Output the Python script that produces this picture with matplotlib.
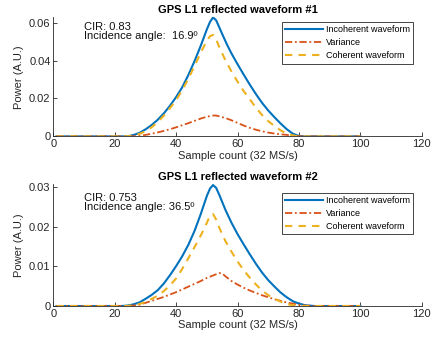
import matplotlib
matplotlib.use("Agg")
import matplotlib.pyplot as plt

plt.rcParams['font.family'] = ['Liberation Sans', 'DejaVu Sans']

# ---------------- Data: waveform #1 ----------------
inc1_x = [1, 10, 20, 24, 26, 28, 30, 32, 34, 36, 38, 40, 42, 44, 46, 48, 50, 51, 52, 53, 54, 55, 56, 57,
          58, 60, 62, 64, 66, 68, 70, 72, 74, 76, 78, 80, 82, 90, 100]
inc1_y = [0, 0, 0, 0, 0.0007, 0.0018, 0.0037, 0.006, 0.0088, 0.0122, 0.0162, 0.0208, 0.026, 0.0325,
          0.0398, 0.0478, 0.0565, 0.0603, 0.0627, 0.0612, 0.0576, 0.0539, 0.0503, 0.0469, 0.0437,
          0.038, 0.0325, 0.0272, 0.0222, 0.0176, 0.0136, 0.0101, 0.0068, 0.0038, 0.0014, 0.0002,
          0, 0, 0]

var1_x = [1, 10, 20, 25, 28, 30, 32, 34, 36, 38, 40, 42, 44, 46, 48, 50, 52, 53, 54, 56, 58, 60, 62,
          64, 66, 68, 70, 72, 74, 76, 78, 80, 82, 90, 100]
var1_y = [0, 0, 0, 0, 0.0002, 0.0008, 0.0014, 0.0021, 0.0029, 0.0038, 0.0048, 0.0059, 0.007, 0.0082,
          0.0094, 0.0104, 0.011, 0.011, 0.0106, 0.0097, 0.0085, 0.0071, 0.0057, 0.0045, 0.0035, 0.0027,
          0.0020, 0.0015, 0.0011, 0.0008, 0.0004, 0.0001, 0, 0, 0]

coh1_x = [1, 10, 20, 24, 26, 28, 30, 32, 34, 36, 38, 40, 42, 44, 46, 48, 50, 51, 52, 53, 54, 56, 58,
          60, 62, 64, 66, 68, 70, 72, 74, 76, 78, 80, 90, 100]
coh1_y = [0, 0, 0, 0, 0.0005, 0.0013, 0.0027, 0.0048, 0.0076, 0.011, 0.015, 0.0192, 0.0245, 0.0305,
          0.0372, 0.0442, 0.0505, 0.0528, 0.0535, 0.0512, 0.0472, 0.0402, 0.0342, 0.0288, 0.0238,
          0.0195, 0.0150, 0.0112, 0.0080, 0.0055, 0.0032, 0.0015, 0.0005, 0, 0, 0]

# ---------------- Data: waveform #2 ----------------
inc2_x = [1, 10, 22, 24, 26, 28, 30, 32, 34, 36, 38, 40, 42, 44, 46, 48, 50, 51, 52, 53, 54, 56, 58,
          60, 62, 64, 66, 68, 70, 72, 74, 76, 78, 80, 82, 85, 90, 100]
inc2_y = [0, 0, 0, 0.0001, 0.0004, 0.0009, 0.0018, 0.0028, 0.0040, 0.0057, 0.0078, 0.0101, 0.0126,
          0.0155, 0.019, 0.0232, 0.0278, 0.0296, 0.0305, 0.0298, 0.0281, 0.0243, 0.0210, 0.0181,
          0.0155, 0.0130, 0.0106, 0.0084, 0.0065, 0.0049, 0.0034, 0.0022, 0.0012, 0.0006, 0.0002,
          0, 0, 0]

var2_x = [1, 10, 24, 26, 28, 30, 32, 34, 36, 38, 40, 42, 44, 46, 48, 50, 52, 54, 55, 56, 58, 60, 62,
          64, 66, 68, 70, 72, 74, 76, 78, 80, 82, 85, 90, 100]
var2_y = [0, 0, 0, 0.0001, 0.0003, 0.0008, 0.0013, 0.0018, 0.0023, 0.0029, 0.0035, 0.0042, 0.0049,
          0.0056, 0.0063, 0.0071, 0.0077, 0.0083, 0.0082, 0.0075, 0.0063, 0.0054, 0.0046, 0.0039,
          0.0033, 0.0027, 0.0022, 0.0017, 0.0013, 0.0009, 0.0006, 0.0003, 0.0001, 0, 0, 0]

coh2_x = [1, 10, 24, 26, 28, 30, 32, 34, 36, 38, 40, 42, 44, 46, 48, 50, 51, 52, 53, 54, 56, 58, 60,
          62, 64, 66, 68, 70, 72, 74, 76, 78, 80, 90, 100]
coh2_y = [0, 0, 0, 0.0002, 0.0005, 0.001, 0.0018, 0.0026, 0.0038, 0.0052, 0.007, 0.0094, 0.0121,
          0.0149, 0.0178, 0.021, 0.0228, 0.0232, 0.0218, 0.0198, 0.0164, 0.0137, 0.0112, 0.0090,
          0.0071, 0.0054, 0.0039, 0.0027, 0.0018, 0.0011, 0.0005, 0.0002, 0, 0, 0]

titles = ["GPS L1 reflected waveform #1", "GPS L1 reflected waveform #2"]
notes = ["CIR: 0.83\nIncidence angle:  16.9º", "CIR: 0.753\nIncidence angle: 36.5º"]
labels = ["Incoherent waveform", "Variance", "Coherent waveform"]
xticks = [0, 20, 40, 60, 80, 100, 120]
yticks1 = [0, 0.02, 0.04, 0.06]
yticks2 = [0, 0.01, 0.02, 0.03]
ylims = [0.0629, 0.0307]

C_BLUE = '#0072BD'
C_ORANGE = '#D95319'
C_YELLOW = '#EDB120'
C_AX = '#262626'

fig = plt.figure(figsize=(4.34, 3.41), dpi=100)
ax1 = fig.add_axes([0.123, 0.600, 0.849, 0.350])
ax2 = fig.add_axes([0.123, 0.1026, 0.849, 0.357])

panels = [
    (ax1, inc1_x, inc1_y, var1_x, var1_y, coh1_x, coh1_y, yticks1, 0),
    (ax2, inc2_x, inc2_y, var2_x, var2_y, coh2_x, coh2_y, yticks2, 1),
]
leg_anchor = [(0.9756, 0.958), (0.9756, 0.9285)]

for ax, ix, iy, vx, vy, cx, cy, yt, k in panels:
    ax.plot(ix, iy, color=C_BLUE, lw=1.5, label=labels[0])
    ax.plot(vx, vy, color=C_ORANGE, lw=1.3, ls=(0, (4, 1.5, 1, 1.5)), label=labels[1])
    ax.plot(cx, cy, color=C_YELLOW, lw=1.5, ls=(0, (3.5, 3)), label=labels[2])
    ax.set_xlim(0, 120)
    ax.set_ylim(0, ylims[k])
    ax.set_xticks(xticks)
    ax.set_yticks(yt)
    ax.set_yticklabels(['0'] + [f"{v:g}" for v in yt[1:]])
    for s in ['top', 'right']:
        ax.spines[s].set_visible(False)
    for s in ['left', 'bottom']:
        ax.spines[s].set_color(C_AX)
        ax.spines[s].set_linewidth(0.6)
    ax.tick_params(direction='in', length=3, width=0.6, colors=C_AX, labelsize=8, pad=2)
    ax.set_title(titles[k], fontsize=8, fontweight='bold', pad=3)
    ax.set_xlabel("Sample count (32 MS/s)", fontsize=8, color=C_AX, labelpad=1)
    ax.set_ylabel("Power (A.U.)", fontsize=8, color=C_AX, labelpad=4)
    ax.text(0.083, 0.958 if k == 0 else 0.931, notes[k], transform=ax.transAxes,
            fontsize=8, va='top', ha='left', linespacing=0.9, color='#111111')
    leg = ax.legend(loc='upper right', bbox_to_anchor=leg_anchor[k], borderaxespad=0,
                    fontsize=6.5, handlelength=4.2, handletextpad=0.3,
                    borderpad=0.35, labelspacing=0.45, fancybox=False, framealpha=1)
    leg.get_frame().set_edgecolor(C_AX)
    leg.get_frame().set_linewidth(0.6)

fig.savefig("out.png", dpi=100)
